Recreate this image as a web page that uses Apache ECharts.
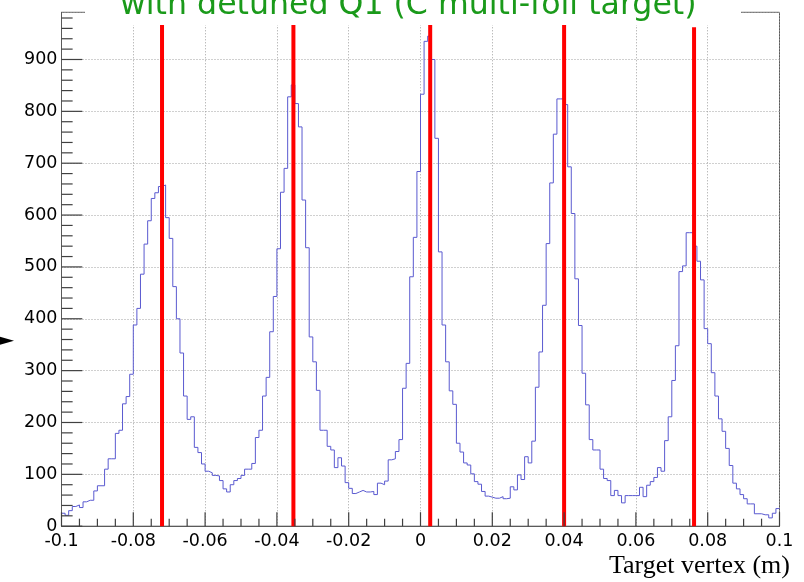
<!DOCTYPE html>
<html><head><meta charset="utf-8">
<script src="https://cdn.jsdelivr.net/npm/echarts/dist/echarts.min.js"></script>
<style>html,body{margin:0;padding:0;background:#fff}#chart{width:804px;height:582px}</style>
</head><body><div id="chart"></div>
<script>
// Histogram binning (200 bins from -0.1 to 0.1 m)
const xMin = -0.1;
const xMax = 0.1;
const binWidth = 0.001;
const yMax = 991;

// Bin contents
const countsA = [25, 21, 30, 38, 41, 36, 47, 50, 50, 68,
  78, 78, 110, 130, 130, 179, 185, 236, 250, 293,
  388, 420, 486, 544, 589, 632, 643, 655, 658, 595,
  555, 462, 400, 334, 251, 206, 211, 152, 142, 120,
  106, 103, 98, 97, 88, 72, 66, 80, 88, 92];
const countsB = [98, 110, 110, 121, 171, 185, 251, 287, 375, 443,
  535, 644, 690, 828, 851, 815, 770, 629, 537, 365,
  317, 262, 185, 185, 154, 147, 113, 132, 116, 84,
  73, 63, 66, 69, 66, 66, 67, 61, 83, 80,
  87, 128, 130, 144, 167, 266, 314, 481, 557, 684];
const countsC = [833, 935, 945, 900, 748, 529, 388, 317, 261, 235,
  160, 143, 122, 118, 101, 86, 81, 67, 58, 56,
  54, 54, 57, 53, 54, 76, 70, 99, 90, 134,
  122, 164, 268, 336, 426, 545, 662, 756, 824, 824,
  813, 693, 603, 477, 387, 295, 234, 167, 147, 147];
const countsD = [110, 92, 88, 59, 69, 59, 45, 59, 59, 59,
  59, 75, 57, 79, 86, 94, 113, 106, 165, 211,
  281, 348, 491, 502, 566, 566, 540, 511, 475, 381,
  352, 296, 251, 207, 183, 150, 117, 83, 72, 61,
  53, 43, 43, 24, 24, 22, 22, 16, 25, 34];

// Red foil-position markers
const foilPositions = [-0.0720, -0.0354, 0.0027, 0.0400, 0.0762];
const foilTops = [990, 990, 990, 990, 962];

// Axis tick structure (major / minor steps) and tick lengths (in axis units)
const xMajorStep = 0.02, xMinorStep = 0.005;
const yMajorStep = 100, yMinorStep = 20;
const xTickLen = [14.5, 27];       // minor, major (count units)
const yTickLen = [0.0031, 0.0058]; // minor, major (metres)

const titleText = 'with detuned Q1 (C multi-foil target)';
const xAxisTitle = 'Target vertex (m)';

const counts = countsA.concat(countsB, countsC, countsD);
const histData = counts.map((v, i) => [+(xMin + i * binWidth).toFixed(4), v]);
histData.push([xMax, counts[counts.length - 1]]);

const axisGrey = '#404040';
const labelFont = { fontFamily: 'DejaVu Sans', fontSize: 17.5, color: '#000' };

const chart = echarts.init(document.getElementById('chart'), null, { renderer: 'canvas' });
const series = [{
  type: 'line', step: 'end', data: histData, symbol: 'none', showSymbol: false,
  lineStyle: { color: '#5a5ad0', width: 1 }, silent: true, z: 3, animation: false
}];
foilPositions.forEach((x, k) => {
  series.push({
    type: 'line', data: [[x, 0], [x, foilTops[k]]], symbol: 'none', showSymbol: false,
    lineStyle: { color: '#ff0000', width: 4 }, silent: true, z: 4, animation: false
  });
});

// ROOT-style inside ticks as short line segments
const xPerMajor = Math.round(xMajorStep / xMinorStep);
const nX = Math.round((xMax - xMin) / xMinorStep);
for (let k = 0; k <= nX; k++) {
  const v = +(xMin + k * xMinorStep).toFixed(4);
  const len = xTickLen[k % xPerMajor === 0 ? 1 : 0];
  series.push({
    type: 'line', data: [[v, 0], [v, len]], symbol: 'none', showSymbol: false, clip: false,
    lineStyle: { color: axisGrey, width: 1.2 }, silent: true, z: 6, animation: false
  });
}
for (let v = 0; v <= yMax; v += yMinorStep) {
  const len = yTickLen[v % yMajorStep === 0 ? 1 : 0];
  series.push({
    type: 'line', data: [[xMin, v], [+(xMin + len).toFixed(5), v]], symbol: 'none', showSymbol: false, clip: false,
    lineStyle: { color: axisGrey, width: 1.2 }, silent: true, z: 6, animation: false
  });
}

chart.setOption({
  animation: false,
  backgroundColor: '#fff',
  grid: { left: 61.5, right: 24.5, top: 12.3, bottom: 55.8, show: true, borderColor: '#5a5a5a', borderWidth: 1, backgroundColor: 'transparent' },
  xAxis: {
    type: 'value', min: xMin, max: xMax, interval: xMajorStep,
    axisLine: { show: true, onZero: false, lineStyle: { color: '#5a5a5a', width: 1 } },
    axisTick: { show: false },
    axisLabel: Object.assign({ margin: 6 }, labelFont),
    splitLine: { show: true, lineStyle: { color: '#a0a0a0', type: [1, 2], width: 1 } }
  },
  yAxis: {
    type: 'value', min: 0, max: yMax, interval: yMajorStep, position: 'left',
    axisLine: { show: true, onZero: false, lineStyle: { color: '#5a5a5a', width: 1 } },
    axisTick: { show: false },
    axisLabel: Object.assign({ margin: 4, showMaxLabel: false, formatter: v => (v % 100 === 0 ? String(v) : '') }, labelFont),
    splitLine: { show: true, lineStyle: { color: '#a0a0a0', type: [1, 2], width: 1 } }
  },
  series: series,
  graphic: [
    { type: 'rect', shape: { x: 85, y: 0, width: 656, height: 25 }, style: { fill: '#fff' }, z: 100 },
    { type: 'text', z: 101, x: 120, y: 5.5, style: { text: titleText, font: '31.6px "DejaVu Sans"', fill: '#1a9a1a', align: 'left', textAlign: 'left', verticalAlign: 'middle', textVerticalAlign: 'middle' } },
    { type: 'text', z: 101, x: 790, y: 566.5, style: { text: xAxisTitle, font: '26px "Liberation Serif"', fill: '#000', align: 'right', textAlign: 'right', verticalAlign: 'middle', textVerticalAlign: 'middle' } },
    { type: 'polygon', z: 101, shape: { points: [[-2, 336.3], [14, 340.7], [-2, 345.2]] }, style: { fill: '#000' } }
  ]
});
</script>
</body></html>
